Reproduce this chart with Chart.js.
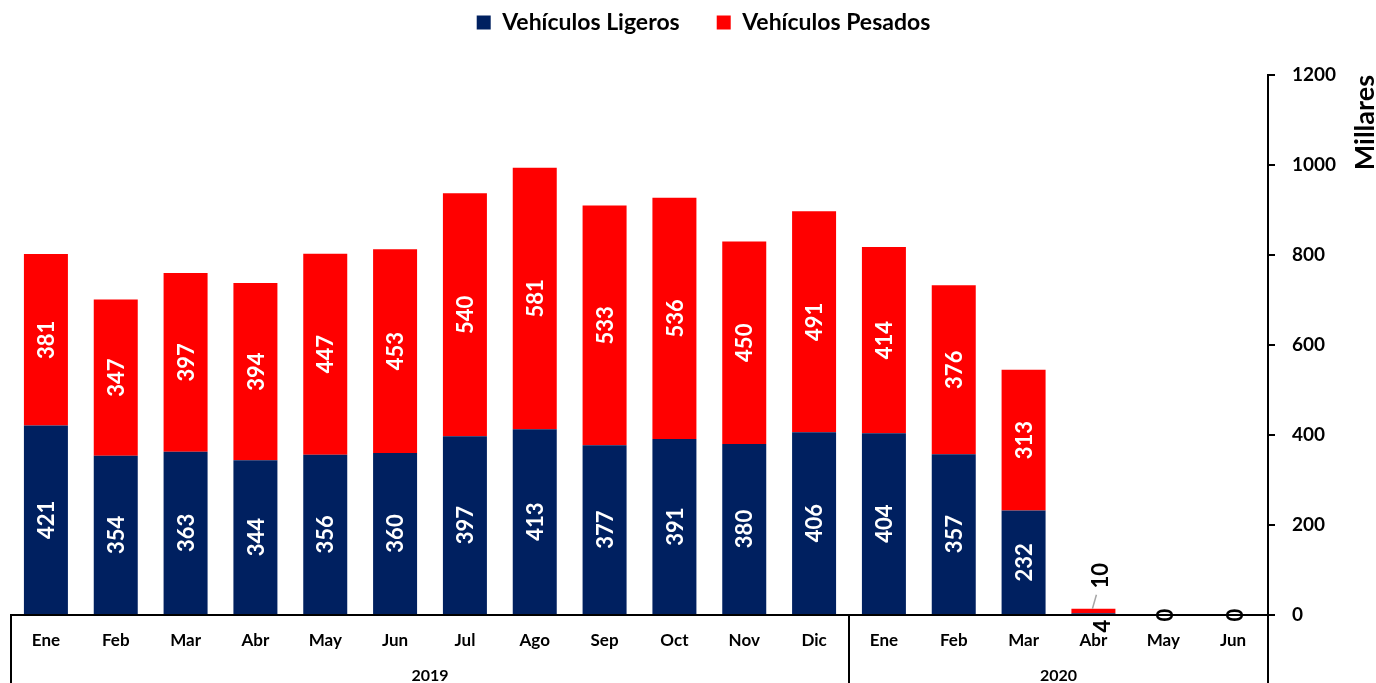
<!DOCTYPE html>
<html>
<head>
<meta charset="utf-8">
<script src="https://cdn.jsdelivr.net/npm/chart.js@4.4.1/dist/chart.umd.min.js"></script>
<style>
  html, body { margin: 0; padding: 0; background: #ffffff; }
  #wrap { width: 1376px; height: 683px; position: relative; }
</style>
</head>
<body>
<div id="wrap"><canvas id="c" width="1376" height="683"></canvas></div>
<script>
// Monthly sales, thousands of vehicles
const months = ['Ene','Feb','Mar','Abr','May','Jun','Jul','Ago','Sep','Oct','Nov','Dic',
                'Ene','Feb','Mar','Abr','May','Jun'];
const years = ['2019', '2020'];
const monthsPerYear = [12, 6];
const ligeros = [421, 354, 363, 344, 356, 360, 397, 413, 377, 391, 380, 406, 404, 357, 232, 4, 0, 0];
const pesados = [381, 347, 397, 394, 447, 453, 540, 581, 533, 536, 450, 491, 414, 376, 313, 10, 0, 0];
const yTicks = [0, 200, 400, 600, 800, 1000, 1200];
const seriesNames = ['Vehículos Ligeros', 'Vehículos Pesados'];
const axisTitle = 'Millares';

const FONT = 'Lato';
const NAVY = '#002060';
const RED = '#FF0000';

// Value labels, rotated, inside each segment; small values go outside
const valueLabels = {
  id: 'valueLabels',
  afterDatasetsDraw(chart) {
    const ctx = chart.ctx;
    chart.data.datasets.forEach((ds, di) => {
      const meta = chart.getDatasetMeta(di);
      meta.data.forEach((bar, i) => {
        const v = ds.data[i];
        const top = Math.min(bar.y, bar.base);
        const bot = Math.max(bar.y, bar.base);
        const h = bot - top;
        let x = bar.x, y = (top + bot) / 2, color = '#ffffff';
        ctx.save();
        if (v === 0) {
          if (di !== 0) { ctx.restore(); return; }
          color = '#000000'; y = bar.base; x += 2;
        } else if (h < 24) {
          color = '#000000';
          if (di === 0) {
            y = bar.base + 12; x += 8;
          } else {
            y = top - 33; x += 6;
            ctx.strokeStyle = '#a6a6a6';
            ctx.lineWidth = 1.5;
            ctx.beginPath();
            ctx.moveTo(bar.x - 1, top);
            ctx.lineTo(bar.x + 3, top - 14);
            ctx.stroke();
          }
        }
        ctx.font = 'bold 22px ' + FONT;
        ctx.textAlign = 'center';
        ctx.textBaseline = 'middle';
        ctx.fillStyle = color;
        ctx.translate(x, y);
        ctx.rotate(-Math.PI / 2);
        ctx.fillText(String(v), 0, 1);
        ctx.restore();
      });
    });
  }
};

// Year groups under the month labels, divider lines and the axis title
const yearGroups = {
  id: 'yearGroups',
  afterInit(chart) {
    const lg = chart.legend;
    const fit = lg.fit;
    lg.fit = function () { fit.call(this); this.height = 75; };
  },
  afterLayout(chart) {
    chart.legend.left += 10;
    chart.legend.right += 10;
    chart.legend.top -= 3;
  },
  afterDraw(chart) {
    const ctx = chart.ctx;
    const xs = chart.scales.x;
    const ca = chart.chartArea;
    const half = (xs.getPixelForValue(1) - xs.getPixelForValue(0)) / 2;
    ctx.save();
    ctx.strokeStyle = '#000000';
    ctx.lineWidth = 2;
    const bottom = chart.height;
    let start = 0;
    const edges = [ca.left];
    years.forEach((yr, k) => {
      const end = start + monthsPerYear[k] - 1;
      const x0 = xs.getPixelForValue(start) - half;
      if (k > 0) edges.push(x0);
      ctx.fillStyle = '#000000';
      ctx.font = 'bold 16px ' + FONT;
      ctx.textAlign = 'center';
      ctx.textBaseline = 'middle';
      ctx.fillText(yr, (xs.getPixelForValue(start) + xs.getPixelForValue(end)) / 2, ca.bottom + 61);
      start = end + 1;
    });
    edges.push(ca.right);
    edges.forEach(x => {
      const px = Math.round(x);
      ctx.beginPath();
      ctx.moveTo(px, ca.bottom);
      ctx.lineTo(px, bottom);
      ctx.stroke();
    });
    // axis title, reading upward
    ctx.font = 'bold 27px ' + FONT;
    ctx.fillStyle = '#000000';
    ctx.textAlign = 'right';
    ctx.textBaseline = 'middle';
    ctx.translate(1365, ca.top);
    ctx.rotate(-Math.PI / 2);
    ctx.fillText(axisTitle, 0, 0);
    ctx.restore();
  }
};

const legendGap = '\u2002\u2002';

new Chart(document.getElementById('c'), {
  type: 'bar',
  data: {
    labels: months,
    datasets: [
      { label: seriesNames[0], data: ligeros, backgroundColor: NAVY, borderWidth: 0 },
      { label: seriesNames[1], data: pesados, backgroundColor: RED, borderWidth: 0 }
    ]
  },
  options: {
    responsive: false,
    animation: false,
    devicePixelRatio: 1,
    layout: { padding: { left: 11, right: 0, top: 0, bottom: 0 } },
    datasets: { bar: { categoryPercentage: 1.0, barPercentage: 0.63 } },
    plugins: {
      tooltip: { enabled: false },
      legend: {
        position: 'top',
        labels: {
          color: '#000000',
          font: { family: FONT, size: 23, weight: 'bold' },
          boxWidth: 14,
          boxHeight: 14,
          padding: 14,
          generateLabels(chart) {
            const items = Chart.defaults.plugins.legend.labels.generateLabels(chart);
            items.forEach((it, k) => { if (k < items.length - 1) it.text = it.text + legendGap; });
            return items;
          }
        }
      }
    },
    scales: {
      x: {
        stacked: true,
        grid: { display: false },
        border: { display: true, color: '#000000', width: 2 },
        ticks: {
          color: '#000000',
          font: { family: FONT, size: 17, weight: 'bold' },
          padding: 7,
          maxRotation: 0,
          autoSkip: false
        },
        afterFit(scale) { scale.height = 68; }
      },
      y: {
        stacked: true,
        position: 'right',
        min: 0,
        max: 1200,
        afterBuildTicks(scale) { scale.ticks = yTicks.map(v => ({ value: v })); },
        grid: { drawOnChartArea: false, drawTicks: true, tickLength: 7, color: '#000000', lineWidth: 2 },
        border: { display: true, color: '#000000', width: 2 },
        ticks: {
          color: '#000000',
          font: { family: FONT, size: 19, weight: 'bold' },
          padding: 17,
          callback: (v) => String(v)
        },
        afterFit(scale) { scale.width = 108; }
      }
    }
  },
  plugins: [valueLabels, yearGroups]
});
</script>
</body>
</html>
